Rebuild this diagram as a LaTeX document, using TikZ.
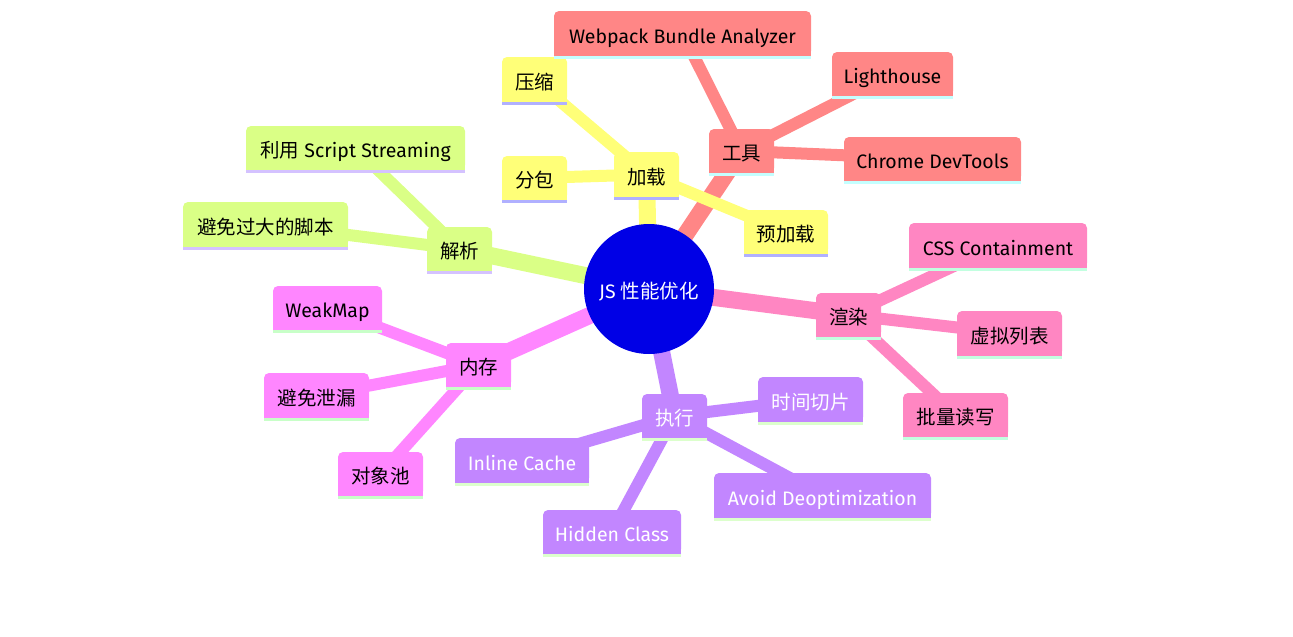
\documentclass[tikz,border=0pt]{standalone}
\usepackage{fontspec}
\setmainfont{Fira Sans}
\newfontfamily\cjk{Noto Sans CJK SC}
\definecolor{yel}{HTML}{FFFF78}
\definecolor{yelS}{HTML}{B0B0FF}
\definecolor{red}{HTML}{FF8686}
\definecolor{redS}{HTML}{C4FFFF}
\definecolor{grn}{HTML}{DAFF86}
\definecolor{grnS}{HTML}{D4C2FF}
\definecolor{pnk}{HTML}{FF86C2}
\definecolor{pnkS}{HTML}{C2FFE0}
\definecolor{mag}{HTML}{FF86FF}
\definecolor{magS}{HTML}{C8FFC8}
\definecolor{pur}{HTML}{C286FF}
\definecolor{purS}{HTML}{DCFFCC}
\definecolor{rootc}{HTML}{0000E6}
\pgfdeclarelayer{edges}
\pgfdeclarelayer{boxes}
\pgfsetlayers{edges,boxes,main}
\tikzset{
  mmtext/.style={inner sep=0pt, text height=19pt, text depth=0pt, font=\fontsize{19.5}{21}\selectfont},
  rootedge/.style={line width=17pt, line cap=butt},
  leafedge/.style={line width=12pt, line cap=butt},
}
\newcommand\mmbox[9]{%
  \begin{pgfonlayer}{boxes}
    \fill[#6,rounded corners=5pt] (#2,#3) rectangle (#4,#5-3);
    \fill[#6] (#2,#5-12) rectangle (#4,#5-3);
    \fill[#7] (#2,#5-3) rectangle (#4,#5);
  \end{pgfonlayer}
  \node[mmtext,text=#8] (#1) at ({(#2+#4)/2},{(#3+#5-3)/2}) {#9};
}
\begin{document}
\begin{tikzpicture}[x=1pt,y=-1pt]
\useasboundingbox (0,0) rectangle (1293,637);
\node[circle, fill=rootc, minimum size=130pt, inner sep=0pt, text=white, text height=19pt, text depth=0pt, font=\fontsize{19.5}{21}\selectfont] (root) at (649,289) {JS {\cjk 性能优化}};
% yellow
\mmbox{jz}{614}{152}{679}{200}{yel}{yelS}{black}{\cjk 加载}
\mmbox{ys}{502}{57}{567}{105}{yel}{yelS}{black}{\cjk 压缩}
\mmbox{fb}{502}{156}{567}{203}{yel}{yelS}{black}{\cjk 分包}
\mmbox{yjz}{744}{210}{828}{257}{yel}{yelS}{black}{\cjk 预加载}
% red
\mmbox{gj}{709}{129}{774}{176}{red}{redS}{black}{\cjk 工具}
\mmbox{wba}{554}{11}{811}{59}{red}{redS}{black}{Webpack Bundle Analyzer}
\mmbox{lh}{832}{52}{953}{99}{red}{redS}{black}{Lighthouse}
\mmbox{cdt}{844}{137}{1021}{184}{red}{redS}{black}{Chrome DevTools}
% green
\mmbox{jx}{427}{227}{492}{274}{grn}{grnS}{black}{\cjk 解析}
\mmbox{lss}{246}{126}{465}{173}{grn}{grnS}{black}{{\cjk 利用} Script Streaming}
\mmbox{bm}{183}{202}{348}{250}{grn}{grnS}{black}{\cjk 避免过大的脚本}
% pink
\mmbox{xr}{816}{293}{881}{340}{pnk}{pnkS}{black}{\cjk 渲染}
\mmbox{css}{909}{223}{1087}{271}{pnk}{pnkS}{black}{CSS Containment}
\mmbox{xnl}{957}{311}{1062}{359}{pnk}{pnkS}{black}{\cjk 虚拟列表}
\mmbox{plx}{903}{393}{1008}{440}{pnk}{pnkS}{black}{\cjk 批量读写}
% purple
\mmbox{zx}{642}{394}{707}{441}{pur}{purS}{white}{\cjk 执行}
\mmbox{sjqp}{758}{377}{863}{425}{pur}{purS}{white}{\cjk 时间切片}
\mmbox{ic}{455}{438}{589}{486}{pur}{purS}{white}{Inline Cache}
\mmbox{ad}{714}{473}{931}{521}{pur}{purS}{white}{Avoid Deoptimization}
\mmbox{hc}{543}{510}{681}{557}{pur}{purS}{white}{Hidden Class}
% magenta
\mmbox{nc}{446}{343}{511}{390}{mag}{magS}{black}{\cjk 内存}
\mmbox{wm}{273}{286}{382}{333}{mag}{magS}{black}{WeakMap}
\mmbox{bmxl}{264}{373}{369}{421}{mag}{magS}{black}{\cjk 避免泄漏}
\mmbox{dxc}{338}{452}{423}{499}{mag}{magS}{black}{\cjk 对象池}
\begin{pgfonlayer}{edges}
\draw[rootedge,yel] (root.center) -- (jz.center);
\draw[rootedge,red] (root.center) -- (gj.center);
\draw[rootedge,grn] (root.center) -- (jx.center);
\draw[rootedge,pnk] (root.center) -- (xr.center);
\draw[rootedge,pur] (root.center) -- (zx.center);
\draw[rootedge,mag] (root.center) -- (nc.center);
\draw[leafedge,yel] (jz.center) -- (ys.center);
\draw[leafedge,yel] (jz.center) -- (fb.center);
\draw[leafedge,yel] (jz.center) -- (yjz.center);
\draw[leafedge,red] (gj.center) -- (wba.center);
\draw[leafedge,red] (gj.center) -- (lh.center);
\draw[leafedge,red] (gj.center) -- (cdt.center);
\draw[leafedge,grn] (jx.center) -- (lss.center);
\draw[leafedge,grn] (jx.center) -- (bm.center);
\draw[leafedge,pnk] (xr.center) -- (css.center);
\draw[leafedge,pnk] (xr.center) -- (xnl.center);
\draw[leafedge,pnk] (xr.center) -- (plx.center);
\draw[leafedge,pur] (zx.center) -- (sjqp.center);
\draw[leafedge,pur] (zx.center) -- (ic.center);
\draw[leafedge,pur] (zx.center) -- (ad.center);
\draw[leafedge,pur] (zx.center) -- (hc.center);
\draw[leafedge,mag] (nc.center) -- (wm.center);
\draw[leafedge,mag] (nc.center) -- (bmxl.center);
\draw[leafedge,mag] (nc.center) -- (dxc.center);
\end{pgfonlayer}
\end{tikzpicture}
\end{document}
